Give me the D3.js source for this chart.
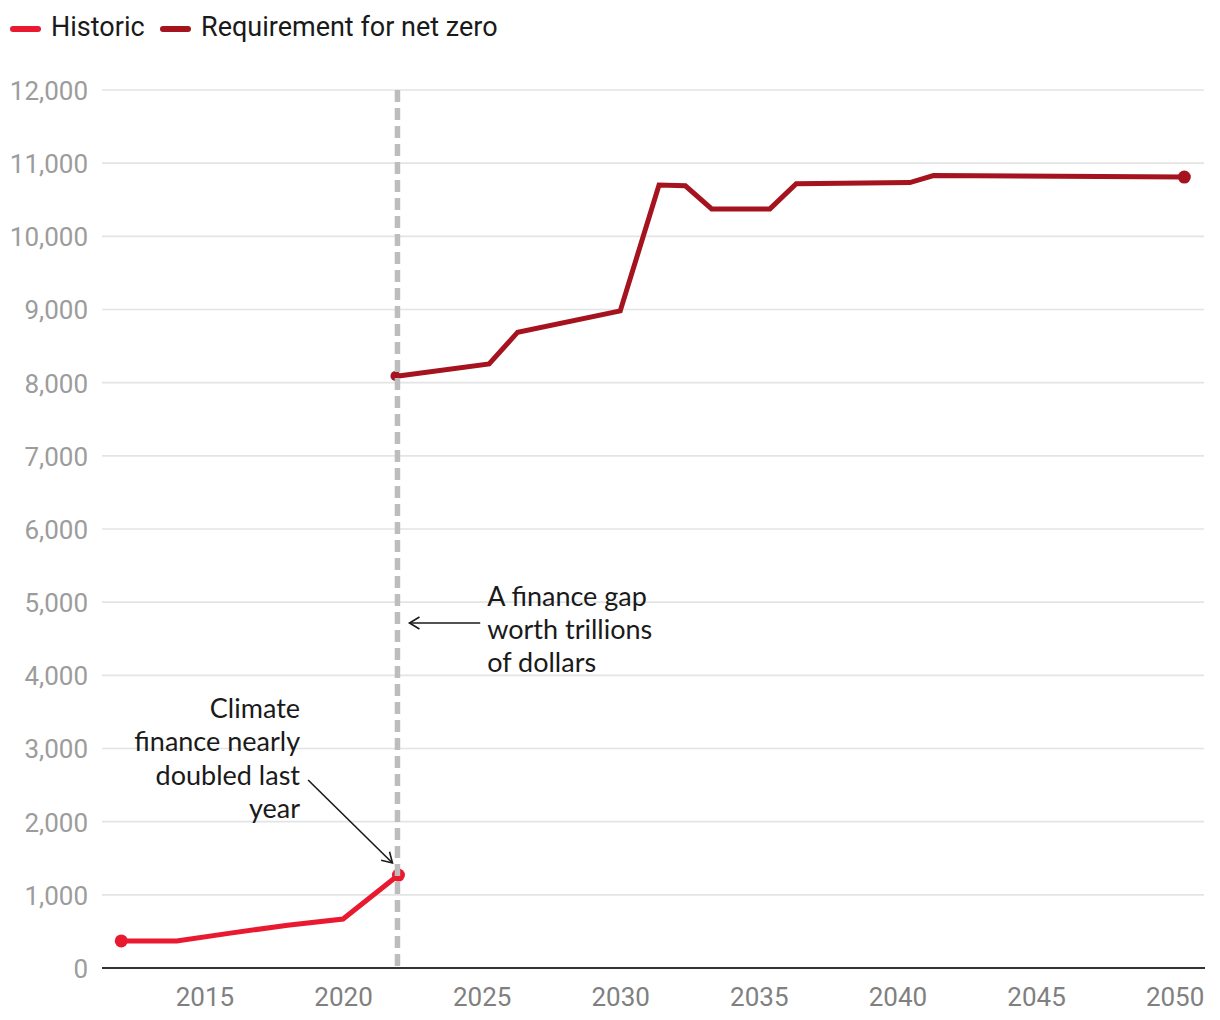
<!DOCTYPE html>
<html>
<head>
<meta charset="utf-8">
<script src="https://cdn.jsdelivr.net/npm/d3@7"></script>
<style>
  html, body { margin: 0; padding: 0; background: #fff; }
  svg { display: block; }
</style>
</head>
<body>
<svg id="chart" width="1220" height="1020"></svg>
<script>
// ---- Data ----
const historicYears  = [2012, 2014, 2016, 2018, 2020, 2022];
const historicValues = [370, 370, 480, 585, 670, 1270];

const requirementYears  = [2022, 2025.27, 2026.3, 2030.0, 2031.4, 2032.35, 2033.3, 2035.4, 2036.35, 2040.45, 2041.3, 2050.35];
const requirementValues = [8090, 8255, 8690, 8980, 10700, 10690, 10375, 10375, 10720, 10735, 10830, 10810];

const yTicks = [0, 1000, 2000, 3000, 4000, 5000, 6000, 7000, 8000, 9000, 10000, 11000, 12000];
const xTicks = [2015, 2020, 2025, 2030, 2035, 2040, 2045, 2050];

const seriesNames = ["Historic", "Requirement for net zero"];
const dividerYear = 2022;

const noteGap = ["A finance gap", "worth trillions", "of dollars"];
const noteHistoric = ["Climate", "finance nearly", "doubled last", "year"];

// ---- Styles ----
const colHistoric = "#E91A30";
const colRequirement = "#A5131F";
const tickFont = "Roboto, 'Noto Sans', sans-serif";
const noteFont = "Lato, 'Open Sans', sans-serif";

const svg = d3.select("#chart");
const plotLeft = 102, plotRight = 1204, plotTop = 90, plotBottom = 968;

const x = d3.scaleLinear().domain([2011.305, 2051.06]).range([plotLeft, plotRight]);
const y = d3.scaleLinear().domain([0, 12000]).range([plotBottom, plotTop]);

// Gridlines
svg.append("g")
  .selectAll("line")
  .data(yTicks.filter(d => d > 0))
  .join("line")
  .attr("x1", plotLeft).attr("x2", plotRight)
  .attr("y1", d => y(d)).attr("y2", d => y(d))
  .attr("stroke", "#e4e4e4").attr("stroke-width", 1.6);

// Y axis labels
const yAxis = d3.axisLeft(y).tickValues(yTicks).tickFormat(d3.format(",")).tickSize(0).tickPadding(14);
const gy = svg.append("g").attr("transform", `translate(${plotLeft},0)`).call(yAxis);
gy.select(".domain").remove();
gy.selectAll("text")
  .attr("fill", "#9c9c9c")
  .style("font-family", tickFont)
  .style("font-size", "26px")
  .attr("dy", "0.36em");

// X axis
const xAxis = d3.axisBottom(x).tickValues(xTicks).tickFormat(d3.format("d")).tickSize(0).tickPadding(20);
const gx = svg.append("g").attr("transform", `translate(0,${plotBottom})`).call(xAxis);
gx.select(".domain").remove();
gx.selectAll("text")
  .attr("fill", "#808080")
  .style("font-family", tickFont)
  .style("font-size", "26px");

svg.append("line")
  .attr("x1", plotLeft).attr("x2", plotRight + 1)
  .attr("y1", plotBottom).attr("y2", plotBottom)
  .attr("stroke", "#333").attr("stroke-width", 2);

// Lines
const line = d3.line().x(d => x(d[0])).y(d => y(d[1]));
const histData = historicYears.map((d, i) => [d, historicValues[i]]);
const reqData = requirementYears.map((d, i) => [d, requirementValues[i]]);

svg.append("path").datum(histData).attr("d", line)
  .attr("fill", "none").attr("stroke", colHistoric).attr("stroke-width", 5)
  .attr("stroke-linejoin", "miter");
svg.append("path").datum(reqData).attr("d", line)
  .attr("fill", "none").attr("stroke", colRequirement).attr("stroke-width", 5)
  .attr("stroke-linejoin", "miter");

// End dots
const dots = [
  [histData[0], colHistoric], [histData[histData.length - 1], colHistoric],
  [reqData[0], colRequirement], [reqData[reqData.length - 1], colRequirement]
];
svg.append("g").selectAll("circle").data(dots).join("circle")
  .attr("cx", (d, i) => x(d[0][0]) - (i === 2 ? 3 : 0)).attr("cy", d => y(d[0][1]))
  .attr("r", (d, i) => (i === 2 ? 5 : 6.5))
  .attr("fill", d => d[1]);

// Divider dashed line
svg.append("line")
  .attr("x1", x(dividerYear) - 1).attr("x2", x(dividerYear) - 1)
  .attr("y1", plotTop).attr("y2", plotBottom)
  .attr("stroke", "#bdbdbd").attr("stroke-width", 5.5)
  .attr("stroke-dasharray", "12,6");

// Arrow marker
const defs = svg.append("defs");
defs.append("marker")
  .attr("id", "arrow").attr("viewBox", "-12 -8 14 16")
  .attr("markerWidth", 14).attr("markerHeight", 16)
  .attr("markerUnits", "userSpaceOnUse")
  .attr("refX", 0).attr("refY", 0).attr("orient", "auto")
  .append("path").attr("d", "M-10,-6 L0,0 L-10,6")
  .attr("fill", "none").attr("stroke", "#1a1a1a").attr("stroke-width", 1.6);

// Annotation: gap
svg.append("line")
  .attr("x1", x(2024.95)).attr("y1", y(4715))
  .attr("x2", x(dividerYear) + 11).attr("y2", y(4715))
  .attr("stroke", "#1a1a1a").attr("stroke-width", 1.6)
  .attr("marker-end", "url(#arrow)");
svg.append("g").selectAll("text").data(noteGap).join("text")
  .attr("x", x(2025.2)).attr("y", (d, i) => 606 + i * 33)
  .attr("fill", "#1a1a1a")
  .style("font-family", noteFont).style("font-size", "27px")
  .text(d => d);

// Annotation: historic
svg.append("line")
  .attr("x1", x(2018.74)).attr("y1", y(2570))
  .attr("x2", x(dividerYear) - 6).attr("y2", y(1435))
  .attr("stroke", "#1a1a1a").attr("stroke-width", 1.6)
  .attr("marker-end", "url(#arrow)");
svg.append("g").selectAll("text").data(noteHistoric).join("text")
  .attr("x", x(2018.45)).attr("y", (d, i) => 718 + i * 33.4)
  .attr("text-anchor", "end")
  .attr("fill", "#1a1a1a")
  .style("font-family", noteFont).style("font-size", "27px")
  .text(d => d);

// Legend
const legend = svg.append("g");
const legendX = [10, 160];
seriesNames.forEach((name, i) => {
  legend.append("line")
    .attr("x1", legendX[i] + 3).attr("x2", legendX[i] + 28)
    .attr("y1", 29).attr("y2", 29)
    .attr("stroke", i === 0 ? colHistoric : colRequirement)
    .attr("stroke-width", 6).attr("stroke-linecap", "round");
  legend.append("text")
    .attr("x", legendX[i] + 41).attr("y", 36)
    .attr("fill", "#1a1a1a")
    .style("font-family", tickFont).style("font-size", "27px")
    .text(name);
});
</script>
</body>
</html>
